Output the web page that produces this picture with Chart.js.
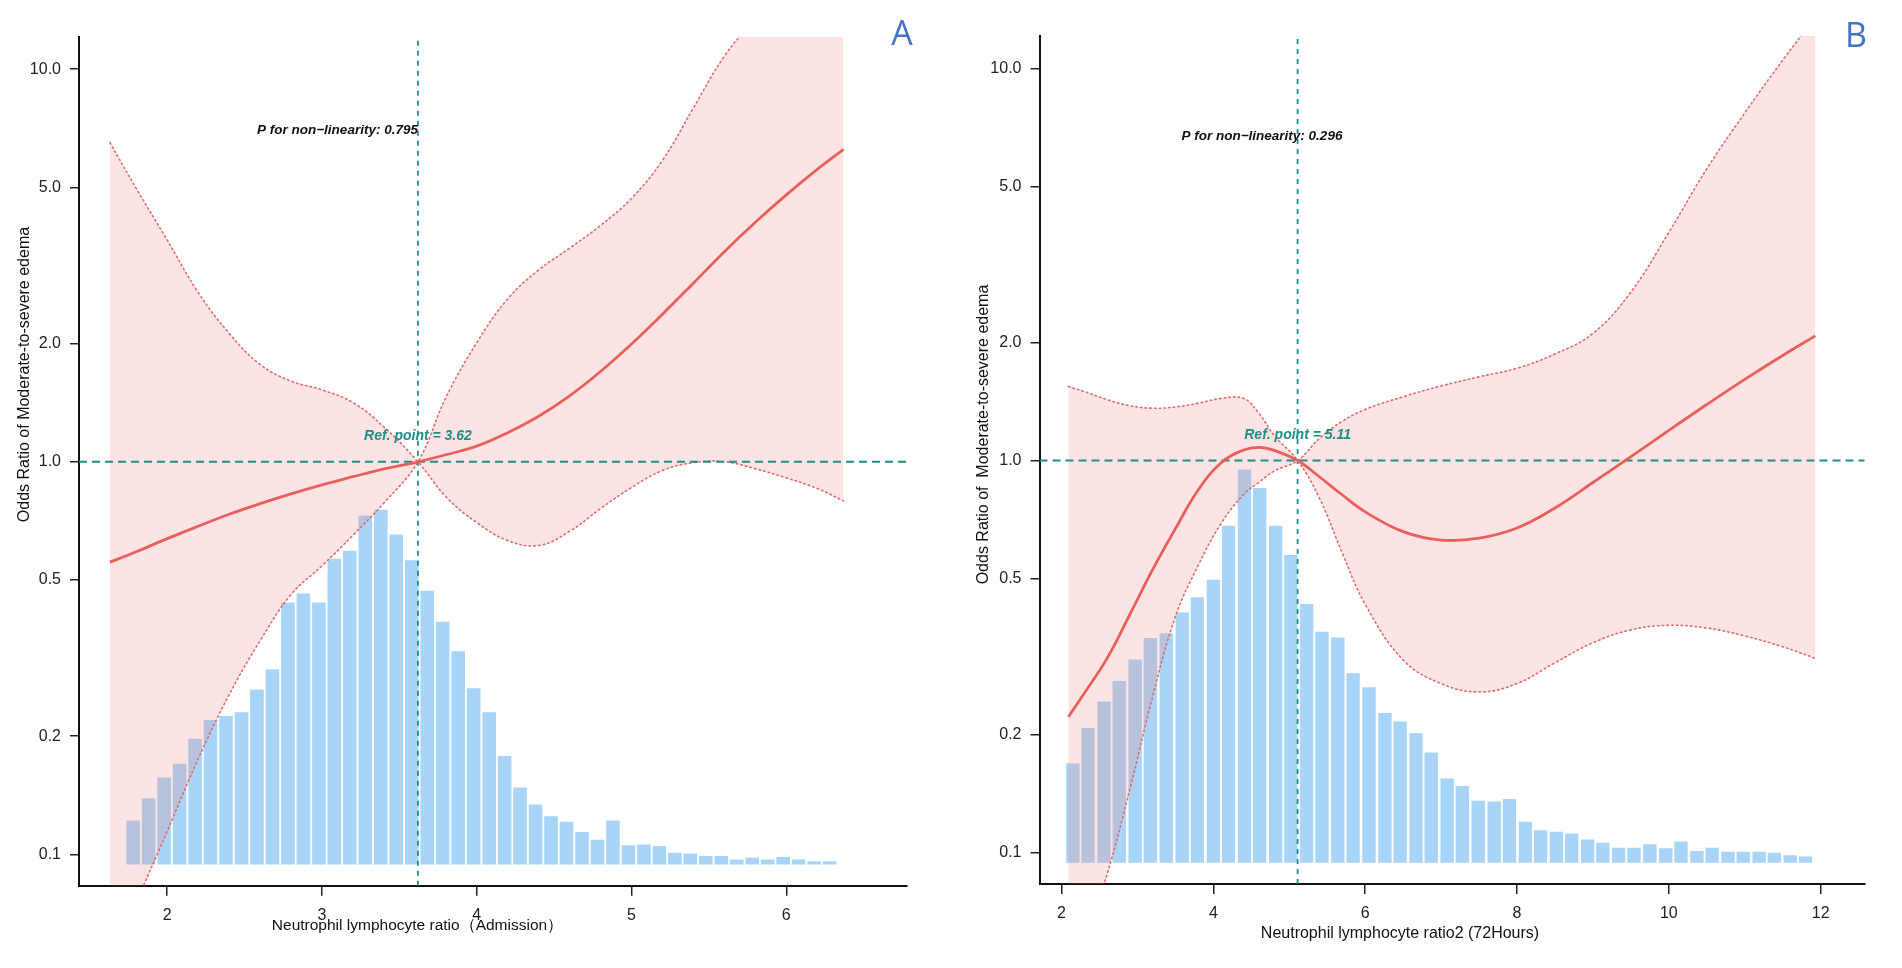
<!DOCTYPE html>
<html lang="en">
<head>
  <meta charset="UTF-8">
  <title>NLR and moderate-to-severe edema – restricted cubic spline</title>
  <script src="https://cdn.jsdelivr.net/npm/chart.js"></script>
  <style>
    * { margin: 0; padding: 0; box-sizing: border-box; }
    body { width: 1902px; height: 968px; background: #fff; overflow: hidden; position: relative; }
    .panel { position: absolute; top: 0; width: 951px; height: 968px; }
    #panelA { left: 0; }
    #panelB { left: 951px; }
  </style>
</head>
<body>
  <div class="panel" id="panelA"><canvas id="chartA"></canvas></div>
  <div class="panel" id="panelB"><canvas id="chartB"></canvas></div>

  <script>
    // ---- values ----
    const yTicks = [0.1, 0.2, 0.5, 1, 2, 5, 10];
    const yMin = 0.0832;
    const yMax = 12.1;
    const histBase = 0.0942;

    // A: NLR at admission
    const admTicks = [2, 3, 4, 5, 6];
    const admRef = 3.62;
    const admBins = [1.78, 1.88, 1.98, 2.08, 2.18, 2.28, 2.38, 2.48, 2.58, 2.68,
                     2.78, 2.88, 2.98, 3.08, 3.18, 3.28, 3.38, 3.48, 3.58, 3.68,
                     3.78, 3.88, 3.98, 4.08, 4.18, 4.28, 4.38, 4.48, 4.58, 4.68,
                     4.78, 4.88, 4.98, 5.08, 5.18, 5.28, 5.38, 5.48, 5.58, 5.68,
                     5.78, 5.88, 5.98, 6.08, 6.18, 6.28];
    const admHist = [0.122, 0.139, 0.157, 0.170, 0.197, 0.220, 0.225, 0.230, 0.263, 0.296,
                     0.438, 0.462, 0.438, 0.566, 0.593, 0.730, 0.755, 0.653, 0.561, 0.469,
                     0.391, 0.329, 0.265, 0.230, 0.178, 0.148, 0.134, 0.125, 0.121, 0.114,
                     0.109, 0.122, 0.1055, 0.106, 0.105, 0.101, 0.1005, 0.099, 0.099, 0.097,
                     0.098, 0.097, 0.0985, 0.097, 0.096, 0.096];
    const admX     = [1.63, 1.8, 2.0, 2.2, 2.4, 2.6, 2.8, 3.0, 3.2, 3.4, 3.62, 3.8, 4.0,
                      4.2, 4.4, 4.6, 4.8, 5.0, 5.2, 5.4, 5.6, 5.8, 6.0, 6.2, 6.37];
    const admOR    = [0.555, 0.590, 0.637, 0.685, 0.735, 0.782, 0.828, 0.873, 0.916, 0.959, 1.0, 1.042, 1.096,
                      1.186, 1.306, 1.472, 1.698, 1.995, 2.377, 2.851, 3.428, 4.074, 4.786, 5.559, 6.252];
    const admLower = [0.05, 0.075, 0.1145, 0.175, 0.255, 0.35, 0.459, 0.543, 0.65, 0.785, 1.0, 0.815, 0.70,
                      0.63, 0.612, 0.665, 0.76, 0.86, 0.95, 0.995, 1.0, 0.96, 0.91, 0.855, 0.795];
    const admUpper = [6.50, 4.97, 3.67, 2.70, 2.125, 1.77, 1.605, 1.525, 1.415, 1.227, 1.0, 1.456, 2.01,
                      2.60, 3.08, 3.50, 4.0, 4.69, 5.86, 7.97, 10.8, 13.5, 17, 21, 26];

    // B: NLR at 72 hours
    const h72Ticks = [2, 4, 6, 8, 10, 12];
    const h72Ref = 5.11;
    const h72Bins = [2.15, 2.35, 2.56, 2.76, 2.97, 3.17, 3.38, 3.59, 3.79, 4.00,
                     4.20, 4.41, 4.61, 4.82, 5.02, 5.23, 5.43, 5.64, 5.84, 6.05,
                     6.26, 6.46, 6.67, 6.87, 7.08, 7.28, 7.49, 7.70, 7.90, 8.11,
                     8.31, 8.52, 8.72, 8.93, 9.13, 9.34, 9.54, 9.75, 9.96, 10.16,
                     10.37, 10.57, 10.78, 10.98, 11.19, 11.39, 11.60, 11.80];
    const h72Hist = [0.169, 0.208, 0.243, 0.274, 0.311, 0.353, 0.363, 0.410, 0.448, 0.497,
                     0.682, 0.949, 0.851, 0.682, 0.574, 0.431, 0.366, 0.354, 0.287, 0.264,
                     0.227, 0.216, 0.202, 0.180, 0.1545, 0.148, 0.1356, 0.135, 0.137, 0.120,
                     0.114, 0.113, 0.112, 0.108, 0.106, 0.103, 0.103, 0.105, 0.1027, 0.1068,
                     0.101, 0.103, 0.1005, 0.1005, 0.1005, 0.100, 0.0985, 0.0978];
    const h72X     = [2.09, 2.3, 2.6, 2.9, 3.2, 3.5, 3.8, 4.1, 4.4, 4.6, 4.8, 5.11, 5.4, 5.7,
                      6.0, 6.5, 7.0, 7.5, 8.0, 8.5, 9.0, 9.5, 10.0, 10.5, 11.0, 11.5, 11.93];
    const h72OR    = [0.222, 0.255, 0.313, 0.405, 0.527, 0.670, 0.841, 0.986, 1.064, 1.081, 1.062, 1.0, 0.908, 0.817,
                      0.740, 0.659, 0.627, 0.634, 0.673, 0.757, 0.879, 1.023, 1.194, 1.390, 1.611, 1.854, 2.080];
    const h72Lower = [0.035, 0.06, 0.088, 0.145, 0.25, 0.40, 0.54, 0.69, 0.82, 0.88, 0.94, 1.0, 0.80, 0.58,
                      0.43, 0.31, 0.27, 0.257, 0.27, 0.305, 0.343, 0.37, 0.38, 0.374, 0.357, 0.335, 0.313];
    const h72Upper = [1.544, 1.50, 1.43, 1.38, 1.36, 1.37, 1.40, 1.44, 1.44, 1.32, 1.16, 1.0, 1.14, 1.26,
                      1.35, 1.455, 1.55, 1.635, 1.72, 1.87, 2.11, 2.69, 3.82, 5.55, 7.7, 10.5, 13.5];

    // ---- look ----
    const SANS = "'Liberation Sans', Arial, sans-serif";
    const BAR_BLUE = 'rgb(168, 213, 247)';
    const PINK = 'rgba(244, 118, 118, 0.2)';
    const RED = '#e8605a';
    const CI_RED = '#dd6a6a';
    const TEAL = '#1f8d88';
    const LETTER_BLUE = '#4472c4';

    const pts = (xs, ys) => xs.map((x, i) => ({ x, y: ys[i] }));

    // free text: axis titles, p-value, reference label, panel letter
    const panelText = {
      id: 'panelText',
      afterDraw(chart, args, opts) {
        const { ctx, scales } = chart;
        (opts.items || []).forEach(it => {
          const px = it.inData ? scales.x.getPixelForValue(it.at[0]) : it.at[0];
          const py = it.inData ? scales.y.getPixelForValue(it.at[1]) : it.at[1];
          ctx.save();
          ctx.font = it.font;
          ctx.fillStyle = it.color || '#111';
          ctx.textAlign = 'center';
          ctx.textBaseline = 'middle';
          ctx.translate(px, py);
          if (it.rotate) ctx.rotate(it.rotate);
          ctx.fillText(it.text, 0, 0);
          ctx.restore();
        });
      }
    };

    const ciLine = {
      type: 'line',
      borderColor: CI_RED,
      borderWidth: 1.6,
      borderDash: [1.5, 3.2],
      borderCapStyle: 'round',
      pointRadius: 0,
      tension: 0.4
    };

    function makePanel(id, p) {
      // the band pinches to a point at the reference value, so each dotted
      // line runs upper->lower (or lower->upper) straight through it
      const bandA = p.x.map((x, i) => (x <= p.ref ? p.upper[i] : p.lower[i]));
      const bandB = p.x.map((x, i) => (x <= p.ref ? p.lower[i] : p.upper[i]));

      const datasets = [
        {
          type: 'bar',
          data: p.bins.map((x, i) => ({ x, y: [histBase, p.hist[i]] })),
          backgroundColor: BAR_BLUE,
          borderWidth: 0,
          categoryPercentage: 1,
          barPercentage: 0.88,
          order: 6
        },
        { ...ciLine, data: pts(p.x, bandA), backgroundColor: PINK, fill: '+1', order: 5 },
        { ...ciLine, data: pts(p.x, bandB), fill: false, order: 4 },
        {
          type: 'line',
          data: [{ x: p.ref, y: yMin }, { x: p.ref, y: yMax }],
          borderColor: TEAL,
          borderWidth: 1.8,
          borderDash: [5, 5],
          pointRadius: 0,
          fill: false,
          order: 3
        },
        {
          type: 'line',
          data: [{ x: p.xMin, y: 1 }, { x: p.xMax, y: 1 }],
          borderColor: TEAL,
          borderWidth: 2,
          borderDash: [8, 5],
          pointRadius: 0,
          fill: false,
          order: 2
        },
        {
          type: 'line',
          data: pts(p.x, p.or),
          borderColor: RED,
          borderWidth: 2.8,
          pointRadius: 0,
          fill: false,
          tension: 0.4,
          order: 1
        }
      ];

      return new Chart(document.getElementById(id), {
        type: 'line',
        data: { datasets },
        options: {
          responsive: true,
          maintainAspectRatio: false,
          animation: false,
          events: [],
          layout: { padding: { top: p.top, right: p.right, left: 0, bottom: 0 } },
          scales: {
            x: {
              type: 'linear',
              min: p.xMin,
              max: p.xMax,
              offset: false,
              afterBuildTicks: s => { s.ticks = p.ticks.map(v => ({ value: v })); },
              afterFit: s => { s.height = p.xAxisH; },
              ticks: {
                color: '#222',
                padding: 10,
                maxRotation: 0,
                autoSkip: false,
                font: { family: SANS, size: 16 },
                callback: v => String(v)
              },
              grid: { offset: false, drawOnChartArea: false, drawTicks: true, tickLength: 10, color: '#222', lineWidth: 1.5 },
              border: { display: true, color: '#111', width: 2 }
            },
            y: {
              type: 'logarithmic',
              min: yMin,
              max: yMax,
              afterBuildTicks: s => { s.ticks = yTicks.map(v => ({ value: v })); },
              afterFit: s => { s.width = p.yAxisW; },
              ticks: {
                color: '#222',
                padding: 9,
                autoSkip: false,
                font: { family: SANS, size: 16 },
                callback: v => v.toFixed(1)
              },
              grid: { drawOnChartArea: false, drawTicks: true, tickLength: 9, color: '#222', lineWidth: 1.5 },
              border: { display: true, color: '#111', width: 2 }
            }
          },
          plugins: {
            legend: { display: false },
            tooltip: { enabled: false },
            panelText: { items: p.texts }
          }
        },
        plugins: [panelText]
      });
    }

    makePanel('chartA', {
      bins: admBins, hist: admHist, x: admX, or: admOR, lower: admLower, upper: admUpper,
      ref: admRef, ticks: admTicks, xMin: 1.43, xMax: 6.78,
      top: 36.7, right: 44, yAxisW: 79, xAxisH: 82.3,
      texts: [
        { text: 'P for non\u2212linearity: 0.795', at: [3.10, 7.0], inData: true,
          font: `italic bold 13.5px ${SANS}` },
        { text: 'Ref. point = 3.62', at: [admRef, 1.16], inData: true,
          font: `italic bold 14px ${SANS}`, color: TEAL },
        { text: 'Odds Ratio of Moderate-to-severe edema', at: [24.4, 374.5], rotate: -Math.PI / 2,
          font: `16px ${SANS}` },
        { text: 'Neutrophil lymphocyte ratio\uff08Admission\uff09', at: [417.5, 926],
          font: `15.5px ${SANS}` },
        { text: 'A', at: [902, 35], font: `34px 'Open Sans', sans-serif`, color: LETTER_BLUE }
      ]
    });

    makePanel('chartB', {
      bins: h72Bins, hist: h72Hist, x: h72X, or: h72OR, lower: h72Lower, upper: h72Upper,
      ref: h72Ref, ticks: h72Ticks, xMin: 1.71, xMax: 12.58,
      top: 36, right: 37.3, yAxisW: 88.5, xAxisH: 84,
      texts: [
        { text: 'P for non\u2212linearity: 0.296', at: [4.64, 6.73], inData: true,
          font: `italic bold 13.5px ${SANS}` },
        { text: 'Ref. point = 5.11', at: [h72Ref, 1.16], inData: true,
          font: `italic bold 14px ${SANS}`, color: TEAL },
        { text: 'Odds Ratio of  Moderate-to-severe edema', at: [32.5, 434.5], rotate: -Math.PI / 2,
          font: `16px ${SANS}` },
        { text: 'Neutrophil lymphocyte ratio2 (72Hours)', at: [449, 934],
          font: `16px ${SANS}` },
        { text: 'B', at: [905, 37], font: `34px 'Open Sans', sans-serif`, color: LETTER_BLUE }
      ]
    });
  </script>
</body>
</html>
